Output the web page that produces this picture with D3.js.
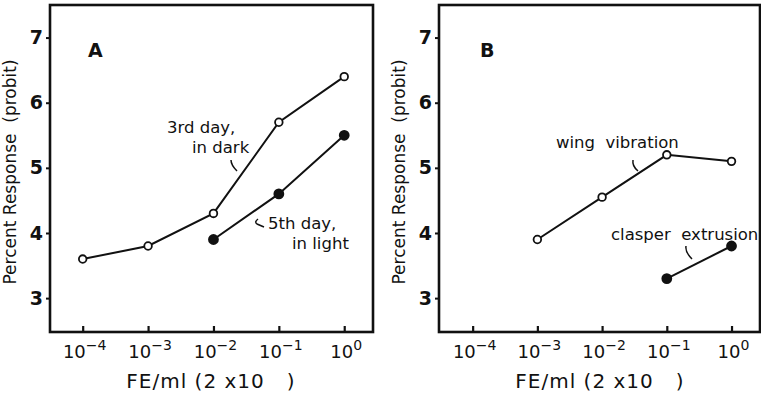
<!DOCTYPE html>
<html>
<head>
<meta charset="utf-8">
<script src="https://cdn.jsdelivr.net/npm/d3@7"></script>
<style>
  body { margin: 0; background: #fff; }
  text { font-family: 'DejaVu Sans', sans-serif; fill: #111; }
</style>
</head>
<body>
<div id="chart"></div>
<script>
// data
const xTicks = [1e-4, 1e-3, 1e-2, 1e-1, 1];
const xTickExp = ['\u22124', '\u22123', '\u22122', '\u22121', '0'];
const yTicks = [3, 4, 5, 6, 7];

const darkX = [1e-4, 1e-3, 1e-2, 1e-1, 1];
const darkY = [3.6, 3.8, 4.3, 5.7, 6.4];
const lightX = [1e-2, 1e-1, 1];
const lightY = [3.9, 4.6, 5.5];

const wingX = [1e-3, 1e-2, 1e-1, 1];
const wingY = [3.9, 4.55, 5.2, 5.1];
const clasperX = [1e-1, 1];
const clasperY = [3.3, 3.8];

const W = 761, H = 395;
const svg = d3.select('#chart').append('svg').attr('width', W).attr('height', H);

function panel(opt) {
  const x = d3.scaleLog().domain(opt.xDomain).range([opt.left, opt.right]);
  const y = d3.scaleLinear().domain([2.48, 7.5]).range([332, 5]);
  const g = svg.append('g');

  // frame
  g.append('rect')
    .attr('x', opt.left).attr('y', 5)
    .attr('width', opt.right - opt.left).attr('height', 327)
    .attr('fill', 'none').attr('stroke', '#111').attr('stroke-width', 2.6);

  // x ticks (inward)
  const xa = g.append('g').attr('transform', 'translate(0,332)')
    .call(d3.axisBottom(x).tickValues(xTicks).tickSize(-6).tickFormat(''));
  xa.select('.domain').remove();
  xa.selectAll('line').attr('stroke', '#111').attr('stroke-width', 2.2);

  xTicks.forEach((v, i) => {
    const t = g.append('text')
      .attr('x', x(v) + 2).attr('y', 358)
      .attr('text-anchor', 'middle')
      .attr('font-size', 18);
    t.append('tspan').text('10');
    t.append('tspan').attr('dy', -8).attr('font-size', 14).text(xTickExp[i]);
  });

  // y ticks (outward)
  const ya = g.append('g').attr('transform', `translate(${opt.left},0)`)
    .call(d3.axisLeft(y).tickValues(yTicks).tickSize(4).tickPadding(3).tickFormat(d3.format('d')));
  ya.select('.domain').remove();
  ya.selectAll('line').attr('stroke', '#111').attr('stroke-width', 2);
  ya.selectAll('text').attr('font-size', 19).attr('font-weight', 'bold')
    .attr('font-family', "'DejaVu Sans', sans-serif").attr('fill', '#111');

  // axis titles
  g.append('text')
    .attr('x', opt.titleX).attr('y', 388)
    .attr('text-anchor', 'middle').attr('font-size', 20)
    .attr('letter-spacing', 1)
    .style('white-space', 'pre')
    .text('FE/ml (2 x10   )');
  g.append('text')
    .attr('transform', `translate(${opt.left - 34},172) rotate(-90)`)
    .attr('text-anchor', 'middle').attr('font-size', 17)
    .style('white-space', 'pre')
    .text('Percent Response  (probit)');

  // panel letter
  g.append('text')
    .attr('x', opt.left + opt.letterDx).attr('y', 57)
    .attr('font-family', "'DejaVu Serif', serif").attr('font-size', 19)
    .attr('font-weight', 'bold')
    .text(opt.letter);

  const line = d3.line().x(d => x(d[0])).y(d => y(d[1]));
  opt.series.forEach(s => {
    const pts = s.xs.map((v, i) => [v, s.ys[i]]);
    g.append('path').datum(pts).attr('d', line)
      .attr('fill', 'none').attr('stroke', '#111').attr('stroke-width', 2);
    g.selectAll(null).data(pts).enter().append('circle')
      .attr('cx', d => x(d[0])).attr('cy', d => y(d[1]))
      .attr('r', s.filled ? 4.5 : 3.8)
      .attr('fill', s.filled ? '#111' : '#fff')
      .attr('stroke', '#111').attr('stroke-width', 1.8);
  });

  return { x, y, g };
}

const A = panel({
  left: 50, right: 373, xDomain: [Math.pow(10, -4.5), Math.pow(10, 0.44)],
  titleX: 211, letter: 'A', letterDx: 38,
  series: [{ xs: darkX, ys: darkY, filled: false }, { xs: lightX, ys: lightY, filled: true }]
});
const B = panel({
  left: 439, right: 760, xDomain: [Math.pow(10, -4.52), Math.pow(10, 0.44)],
  titleX: 600, letter: 'B', letterDx: 41,
  series: [{ xs: wingX, ys: wingY, filled: false }, { xs: clasperX, ys: clasperY, filled: true }]
});

// annotations
function label(g, lines, y0, xs) {
  lines.forEach((s, i) => {
    g.append('text').attr('x', xs[i]).attr('y', y0 + i * 20)
      .attr('font-size', 16.5).style('white-space', 'pre').text(s);
  });
}
function pointer(g, d) {
  g.append('path').attr('d', d).attr('fill', 'none')
    .attr('stroke', '#111').attr('stroke-width', 1.5);
}

label(A.g, ['3rd day,', 'in dark'], 133, [167, 192]);
pointer(A.g, 'M231,160 Q231,165 237,171');
label(A.g, ['5th day,', 'in light'], 229, [268, 292]);
pointer(A.g, 'M258,219 Q254,222 257,224 L264,227');

label(B.g, ['wing  vibration'], 148, [556]);
pointer(B.g, 'M633,160 Q632,166 638,171');
label(B.g, ['clasper  extrusion'], 240, [611]);
pointer(B.g, 'M686,246 Q685,252 692,259');
</script>
</body>
</html>
